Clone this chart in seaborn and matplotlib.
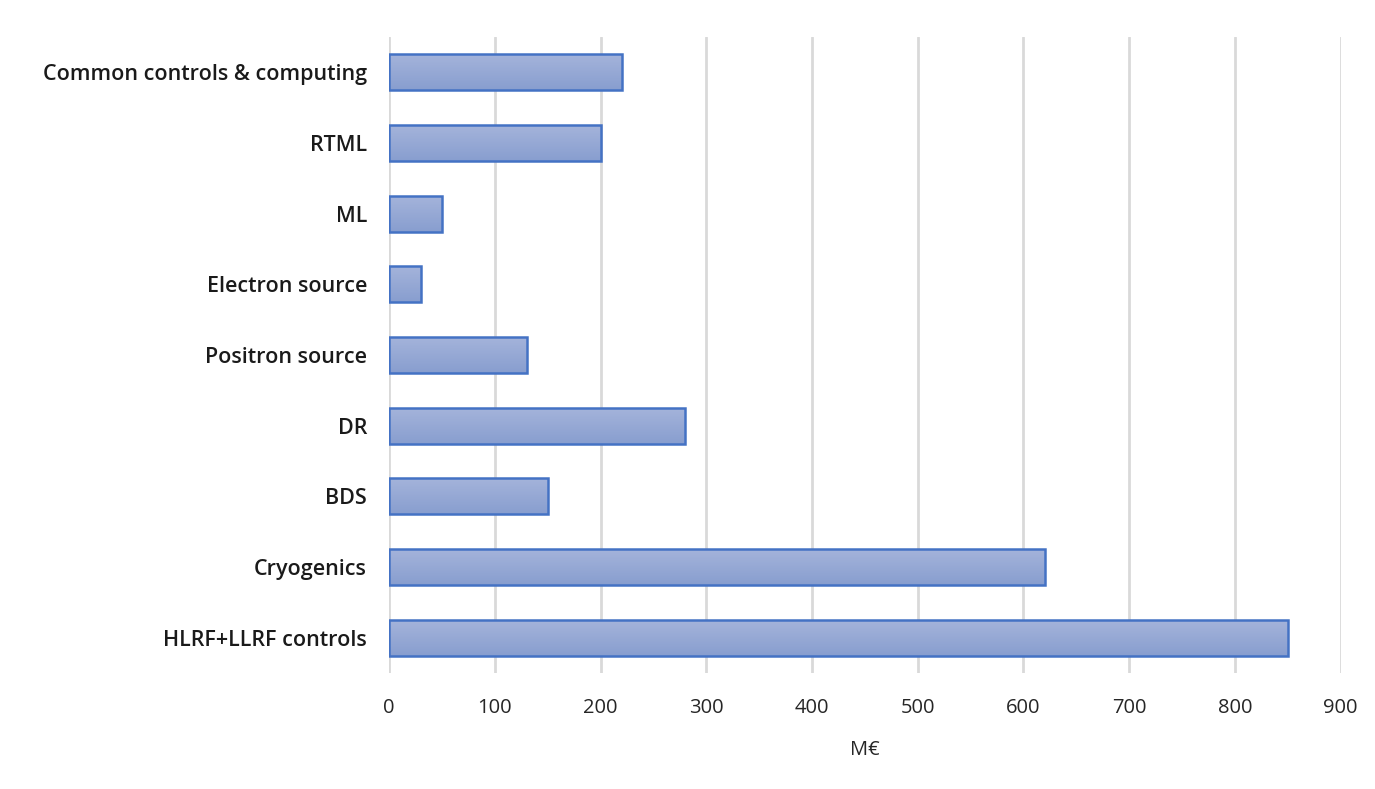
import matplotlib
matplotlib.use("Agg")
import matplotlib.pyplot as plt
import numpy as np
import pandas as pd
import seaborn as sns
from matplotlib.colors import LinearSegmentedColormap

# cost per subsystem, top to bottom as in the chart
systems = ['Common controls & computing', 'RTML', 'ML', 'Electron source',
           'Positron source', 'DR', 'BDS', 'Cryogenics', 'HLRF+LLRF controls']
cost = [220, 200, 50, 30, 130, 280, 150, 620, 850]
xticks = [0, 100, 200, 300, 400, 500, 600, 700, 800, 900]

df = pd.DataFrame({'system': systems, 'cost': cost})

sns.set_style('white')
plt.rcParams['font.family'] = ['Open Sans', 'DejaVu Sans']

fig = plt.figure(figsize=(13.75, 7.89), dpi=100)
ax = fig.add_axes([0.283, 0.147, 0.692, 0.806])

sns.barplot(data=df, x='cost', y='system', orient='h', width=0.51,
            color='#97a9d4', edgecolor='#4472c4', linewidth=1.8, ax=ax,
            zorder=3)

# vertical gradient fill like the office chart: light on top, darker below
grad = LinearSegmentedColormap.from_list('g', ['#a5b4db', '#889ecf'])
for p in ax.patches:
    x0, y0 = p.get_x(), p.get_y()
    w, h = p.get_width(), p.get_height()
    im = ax.imshow(np.linspace(0, 1, 64).reshape(-1, 1), cmap=grad,
                   extent=[x0, x0 + w, y0 + h, y0], aspect='auto',
                   zorder=3.5, origin='upper')
    im.set_clip_path(p)
    p.set_facecolor('none')
    p.set_zorder(4)

ax.set_xlim(0, 900)
ax.set_ylim(8.5, -0.5)
ax.set_xticks(xticks)
ax.set_xticklabels([str(t) for t in xticks], fontsize=14.5, color='#262626')
ax.tick_params(axis='x', length=0, pad=18)
ax.tick_params(axis='y', length=0, pad=16)
for lab in ax.get_yticklabels():
    lab.set_fontweight('semibold')
    lab.set_fontsize(15.5)
    lab.set_color('#1a1a1a')
ax.set_ylabel('')
ax.set_xlabel('M€', fontsize=14.5, color='#262626', labelpad=16)
ax.grid(axis='x', color='#d9d9d9', linewidth=2, zorder=0)
sns.despine(ax=ax, left=True, bottom=True)

fig.savefig('out.png', dpi=100, facecolor='white')
